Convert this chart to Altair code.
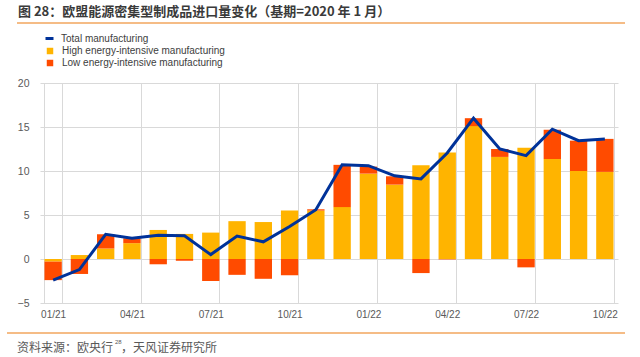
import altair as alt
import pandas as pd

months = ["01/21", "02/21", "03/21", "04/21", "05/21", "06/21", "07/21", "08/21",
          "09/21", "10/21", "11/21", "12/21", "01/22", "02/22", "03/22", "04/22",
          "05/22", "06/22", "07/22", "08/22", "09/22", "10/22"]
high = [-0.3, 0.45, 1.2, 1.8, 3.3, 2.85, 3.0, 4.3, 4.2, 5.5, 5.5, 5.9,
        9.7, 8.45, 10.65, 12.1, 15.1, 11.6, 12.65, 11.35, 10.0, 9.9]
low = [-2.1, -1.7, 1.6, 0.55, -0.6, -0.2, -2.5, -1.8, -2.25, -1.85, 0.15, 4.8,
       0.8, 0.95, -1.6, -0.05, 0.9, 0.9, -0.95, 3.35, 3.45, 3.75]
total = [-2.4, -1.2, 2.8, 2.35, 2.7, 2.65, 0.5, 2.6, 1.95, 3.7, 5.6, 10.7,
         10.6, 9.45, 9.1, 12.05, 16.0, 12.5, 11.75, 14.75, 13.45, 13.65]
series_names = ["Total manufacturing", "High energy-intensive manufacturing",
                "Low energy-intensive manufacturing"]
tick_labels = ["01/21", "04/21", "07/21", "10/21", "01/22", "04/22", "07/22", "10/22"]
y_ticks = [-5, 0, 5, 10, 15, 20]
title_text = "图 28：欧盟能源密集型制成品进口量变化（基期=2020 年 1 月）"
source_main = "资料来源：欧央行"
source_sup = "28"
source_tail = "，天风证券研究所"

BLUE = "#003299"
YELLOW = "#FFB400"
ORANGE = "#FF4B00"
FONT = "Liberation Sans"
CJK = "Noto Sans CJK SC"

bar_rows = []
for i, m in enumerate(months):
    bar_rows.append({"month": m, "series": series_names[1], "value": high[i], "ord": 0})
    bar_rows.append({"month": m, "series": series_names[2], "value": low[i], "ord": 1})
bars_df = pd.DataFrame(bar_rows)
line_df = pd.DataFrame({"month": months, "value": total,
                        "series": [series_names[0]] * len(months)})

x_enc = alt.X("month:N", sort=months, title=None,
              scale=alt.Scale(paddingInner=0.34, paddingOuter=0.17),
              axis=alt.Axis(values=tick_labels, labelAngle=0, tickBand="extent",
                            grid=True, gridColor="#d9d9d9", ticks=False, domain=False,
                            labelFont=FONT, labelFontSize=10, labelColor="#595959",
                            labelPadding=6))
y_scale = alt.Scale(domain=[-5, 20], nice=False, zero=False)
y_axis = alt.Axis(values=y_ticks, grid=True, gridColor="#d9d9d9", ticks=False,
                  domain=False, labelFont=FONT, labelFontSize=10.5,
                  labelColor="#595959", labelPadding=11)

bars = alt.Chart(bars_df).mark_bar().encode(
    x=x_enc,
    y=alt.Y("value:Q", scale=y_scale, axis=y_axis, title=None, stack="zero"),
    color=alt.Color("series:N",
                    scale=alt.Scale(domain=series_names[1:], range=[YELLOW, ORANGE]),
                    legend=alt.Legend(title=None, orient="none", legendX=5,
                                      legendY=-37, direction="vertical",
                                      symbolType="square", symbolSize=42,
                                      symbolStrokeWidth=0, labelFont=FONT,
                                      labelFontSize=10, labelColor="#404040",
                                      rowPadding=2, labelOffset=7,
                                      labelLimit=400)),
    order=alt.Order("ord:Q"),
)

line = alt.Chart(line_df).mark_line(strokeWidth=3).encode(
    x=alt.X("month:N", sort=months),
    y=alt.Y("value:Q", scale=y_scale),
    color=alt.Color("series:N",
                    scale=alt.Scale(domain=series_names[:1], range=[BLUE]),
                    legend=alt.Legend(title=None, orient="none", legendX=4,
                                      legendY=-50, direction="vertical",
                                      symbolType="stroke", symbolSize=64,
                                      symbolStrokeWidth=3, labelFont=FONT,
                                      labelFontSize=10, labelColor="#404040",
                                      labelOffset=6, labelLimit=400)),
)

title_layer = alt.Chart(pd.DataFrame({"t": [title_text]})).mark_text(
    align="left", baseline="middle", font=CJK, fontSize=13, fontWeight="bold",
    color="#3a3a3a"
).encode(text="t:N", x=alt.value(-22), y=alt.value(-71))

source_layer = alt.Chart(pd.DataFrame({"t": [source_main]})).mark_text(
    align="left", baseline="middle", font=CJK, fontSize=12, color="#595959"
).encode(text="t:N", x=alt.value(-23), y=alt.value(265))

source_sup_layer = alt.Chart(pd.DataFrame({"t": [source_sup]})).mark_text(
    align="left", baseline="middle", font=FONT, fontSize=6, color="#595959"
).encode(text="t:N", x=alt.value(75), y=alt.value(259))

source_tail_layer = alt.Chart(pd.DataFrame({"t": [source_tail]})).mark_text(
    align="left", baseline="middle", font=CJK, fontSize=12, color="#595959"
).encode(text="t:N", x=alt.value(81), y=alt.value(265))

top_rule = alt.Chart(pd.DataFrame({"a": [0]})).mark_rule(
    color="#F2A65E", strokeWidth=1.5
).encode(x=alt.value(-23), x2=alt.value(585), y=alt.value(-60))

bottom_rule = alt.Chart(pd.DataFrame({"a": [0]})).mark_rule(
    color="#F2A65E", strokeWidth=1.5
).encode(x=alt.value(-33), x2=alt.value(585), y=alt.value(250))

chart = alt.layer(
    bars, line, title_layer, source_layer, source_sup_layer,
    source_tail_layer, top_rule, bottom_rule
).resolve_scale(color="independent").properties(
    width=578, height=220,
    autosize=alt.AutoSizeParams(type="none"),
    padding={"left": 40, "top": 83, "right": 22, "bottom": 54},
    background="white",
).configure_view(stroke=None)

chart.save("out.html", embed_options={"renderer": "svg", "actions": False})
